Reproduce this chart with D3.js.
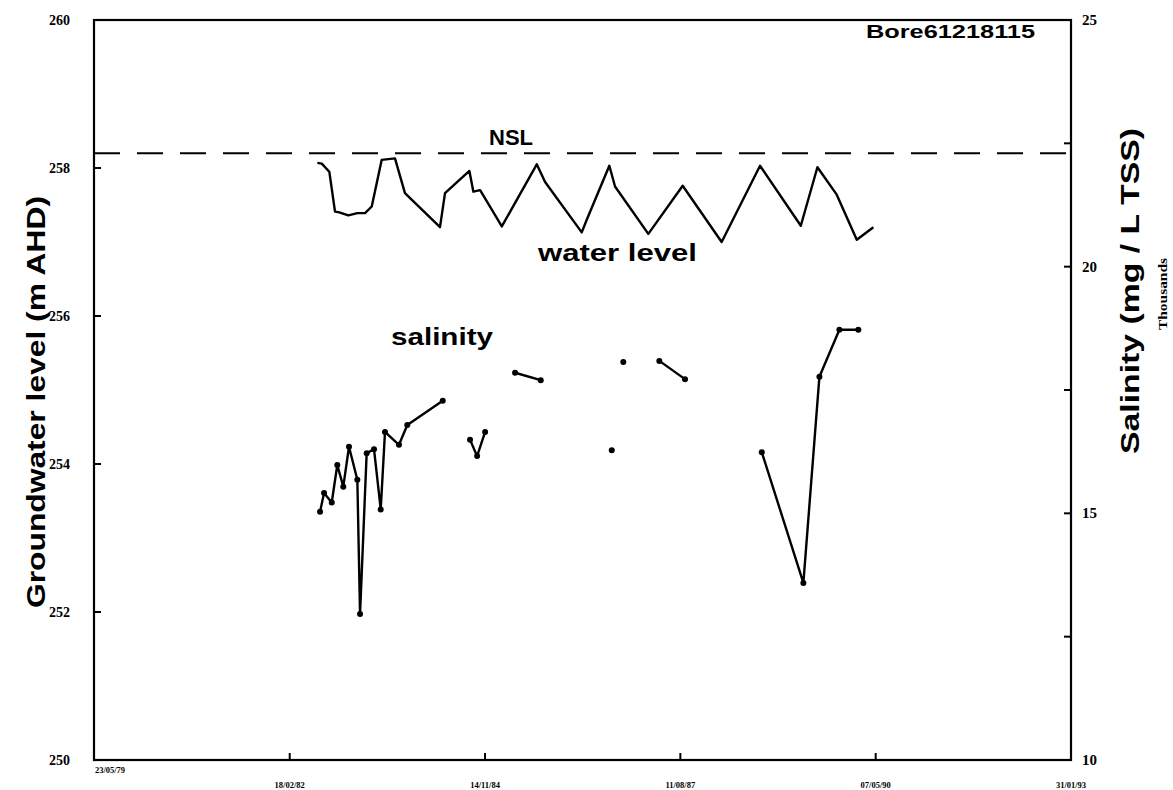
<!DOCTYPE html>
<html>
<head>
<meta charset="utf-8">
<script src="https://cdn.jsdelivr.net/npm/d3@7"></script>
<style>
  body { margin: 0; background: #fff; }
  svg { display: block; }
</style>
</head>
<body>
<svg id="chart" width="1173" height="790"></svg>
<script>
// Bore 61218115: groundwater level (m AHD) and salinity (thousand mg/L TSS)

// Water level readings, dates as decimal years
const levelDates = [1982.519, 1982.581, 1982.687, 1982.767, 1982.827, 1982.954, 1983.080,
  1983.188, 1983.282, 1983.422, 1983.608, 1983.748, 1984.239, 1984.309, 1984.650, 1984.706,
  1984.800, 1985.104, 1985.594, 1985.711, 1986.225, 1986.295, 1986.612, 1986.692, 1987.159,
  1987.641, 1988.187, 1988.724, 1989.295, 1989.528, 1989.799, 1990.080, 1990.313];
const levelValues = [258.07, 258.06, 257.95, 257.41, 257.40, 257.36, 257.39,
  257.39, 257.48, 258.11, 258.13, 257.66, 257.20, 257.66, 257.96, 257.68,
  257.70, 257.21, 258.05, 257.81, 257.13, 257.30, 258.03, 257.75, 257.11,
  257.76, 257.00, 258.03, 257.22, 258.01, 257.64, 257.03, 257.20];

// Salinity samples (thousands mg/L); null marks a break in the record
const salinityDates = [1982.557, 1982.613, 1982.721, 1982.799, 1982.883, 1982.963, 1983.080,
  1983.118, 1983.211, 1983.314, 1983.408, 1983.468, 1983.664, 1983.781, 1984.277, 1984.470,
  1984.659, 1984.758, 1984.870, 1985.080,
  1985.290, 1985.650, 1986.150,
  1986.646, 1986.730,
  1986.808, 1987.060,
  1987.313, 1987.673, 1988.200,
  1988.748, 1989.331, 1989.556, 1989.836, 1990.102];
const salinityValues = [15.03, 15.41, 15.22, 15.98, 15.54, 16.35, 15.68,
  12.96, 16.22, 16.30, 15.08, 16.65, 16.39, 16.79, 17.28, null,
  16.49, 16.16, 16.65, null,
  17.85, 17.70, null,
  16.28, null,
  18.07, null,
  18.09, 17.72, null,
  16.24, 13.59, 17.77, 18.72, 18.72];

const nslLevel = 258.2;
const boreName = "Bore61218115";

const xTickDates = ["1979-05-23", "1982-02-18", "1984-11-14", "1987-08-11", "1990-05-07", "1993-01-31"];
const xTickLabels = ["23/05/79", "18/02/82", "14/11/84", "11/08/87", "07/05/90", "31/01/93"];
const levelTicks = [250, 252, 254, 256, 258, 260];
const levelTickMarks = [252, 254, 256, 258];
const salinityTicks = [10, 15, 20, 25];
const salinityTickMarks = [12.5, 15, 17.5, 20, 22.5];

function decimalYear(d) {
  const y = Math.floor(d);
  const a = Date.UTC(y, 0, 1), b = Date.UTC(y + 1, 0, 1);
  return new Date(a + (d - y) * (b - a));
}
const parseDay = d3.utcParse("%Y-%m-%d");

const svg = d3.select("#chart");
const plot = { left: 94, right: 1071, top: 20, bottom: 760 };

const x = d3.scaleUtc()
  .domain([parseDay(xTickDates[0]), parseDay(xTickDates[xTickDates.length - 1])])
  .range([plot.left, plot.right]);
const yLevel = d3.scaleLinear().domain([250, 260]).range([plot.bottom, plot.top]);
const ySal = d3.scaleLinear().domain([10, 25]).range([plot.bottom, plot.top]);

const serif = "'Liberation Serif', 'DejaVu Serif', serif";
const sans = "'Liberation Sans', Arial, sans-serif";

// frame
svg.append("rect")
  .attr("x", plot.left).attr("y", plot.top)
  .attr("width", plot.right - plot.left).attr("height", plot.bottom - plot.top)
  .attr("fill", "none").attr("stroke", "#000").attr("stroke-width", 2.2);

// inward tick marks
const tickLen = 7;
svg.append("g").selectAll("line").data(levelTickMarks).join("line")
  .attr("x1", plot.left).attr("x2", plot.left + tickLen)
  .attr("y1", d => yLevel(d)).attr("y2", d => yLevel(d))
  .attr("stroke", "#000").attr("stroke-width", 2);
svg.append("g").selectAll("line").data(salinityTickMarks).join("line")
  .attr("x1", plot.right).attr("x2", plot.right - tickLen)
  .attr("y1", d => ySal(d)).attr("y2", d => ySal(d))
  .attr("stroke", "#000").attr("stroke-width", 2);
svg.append("g").selectAll("line").data(xTickDates.slice(1, -1)).join("line")
  .attr("x1", d => x(parseDay(d))).attr("x2", d => x(parseDay(d)))
  .attr("y1", plot.bottom).attr("y2", plot.bottom - tickLen)
  .attr("stroke", "#000").attr("stroke-width", 2);

// left tick labels
svg.append("g").selectAll("text").data(levelTicks).join("text")
  .attr("x", 70).attr("y", d => yLevel(d) + 5)
  .attr("text-anchor", "end")
  .attr("font-family", serif).attr("font-weight", "bold").attr("font-size", 14)
  .text(d => d);

// right tick labels
svg.append("g").selectAll("text").data(salinityTicks).join("text")
  .attr("x", 1082).attr("y", d => ySal(d) + 5)
  .attr("font-family", serif).attr("font-weight", "bold").attr("font-size", 15)
  .text(d => d);

// date labels along the bottom
svg.append("g").selectAll("text").data(xTickDates).join("text")
  .attr("x", (d, i) => i === 0 ? x(parseDay(d)) + 16 : x(parseDay(d)))
  .attr("y", (d, i) => i === 0 ? 773 : 788)
  .attr("text-anchor", "middle")
  .attr("font-family", serif).attr("font-weight", "bold").attr("font-size", 8.5)
  .text((d, i) => xTickLabels[i]);

// axis titles
svg.append("text")
  .attr("transform", "translate(45,402) rotate(-90)")
  .attr("text-anchor", "middle")
  .attr("font-family", sans).attr("font-weight", "bold").attr("font-size", 26)
  .attr("textLength", 412).attr("lengthAdjust", "spacingAndGlyphs")
  .text("Groundwater level (m AHD)");
svg.append("text")
  .attr("transform", "translate(1139,291) rotate(-90)")
  .attr("text-anchor", "middle")
  .attr("font-family", sans).attr("font-weight", "bold").attr("font-size", 25)
  .attr("textLength", 326).attr("lengthAdjust", "spacingAndGlyphs")
  .text("Salinity (mg / L TSS)");
svg.append("text")
  .attr("transform", "translate(1167,294) rotate(-90)")
  .attr("text-anchor", "middle")
  .attr("font-family", serif).attr("font-weight", "bold").attr("font-size", 13)
  .attr("textLength", 72).attr("lengthAdjust", "spacingAndGlyphs")
  .text("Thousands");

// natural surface level
svg.append("line")
  .attr("x1", plot.left).attr("x2", plot.right)
  .attr("y1", yLevel(nslLevel)).attr("y2", yLevel(nslLevel))
  .attr("stroke", "#000").attr("stroke-width", 2)
  .attr("stroke-dasharray", "26 17");

// water level line
const levelPts = levelDates.map((d, i) => ({ t: decimalYear(d), v: levelValues[i] }));
svg.append("path")
  .datum(levelPts)
  .attr("d", d3.line().x(d => x(d.t)).y(d => yLevel(d.v)))
  .attr("fill", "none").attr("stroke", "#000").attr("stroke-width", 2.4)
  .attr("stroke-linejoin", "round");

// salinity line with gaps, plus sample dots
const salPts = salinityDates.map((d, i) => ({ t: decimalYear(d), v: salinityValues[i] }));
svg.append("path")
  .datum(salPts)
  .attr("d", d3.line().defined(d => d.v !== null).x(d => x(d.t)).y(d => ySal(d.v)))
  .attr("fill", "none").attr("stroke", "#000").attr("stroke-width", 2.4)
  .attr("stroke-linejoin", "round");
svg.append("g").selectAll("circle").data(salPts.filter(d => d.v !== null)).join("circle")
  .attr("cx", d => x(d.t)).attr("cy", d => ySal(d.v)).attr("r", 3)
  .attr("fill", "#000");

// in-plot labels
svg.append("text").attr("x", 489).attr("y", 145)
  .attr("font-family", sans).attr("font-weight", "bold").attr("font-size", 22)
  .text("NSL");
svg.append("text").attr("x", 538).attr("y", 261)
  .attr("font-family", sans).attr("font-weight", "bold").attr("font-size", 24)
  .attr("textLength", 159).attr("lengthAdjust", "spacingAndGlyphs")
  .text("water level");
svg.append("text").attr("x", 391).attr("y", 345)
  .attr("font-family", sans).attr("font-weight", "bold").attr("font-size", 24)
  .attr("textLength", 102).attr("lengthAdjust", "spacingAndGlyphs")
  .text("salinity");
svg.append("text").attr("x", 866).attr("y", 38)
  .attr("font-family", sans).attr("font-weight", "bold").attr("font-size", 18)
  .attr("textLength", 169).attr("lengthAdjust", "spacingAndGlyphs")
  .text(boreName);
</script>
</body>
</html>
